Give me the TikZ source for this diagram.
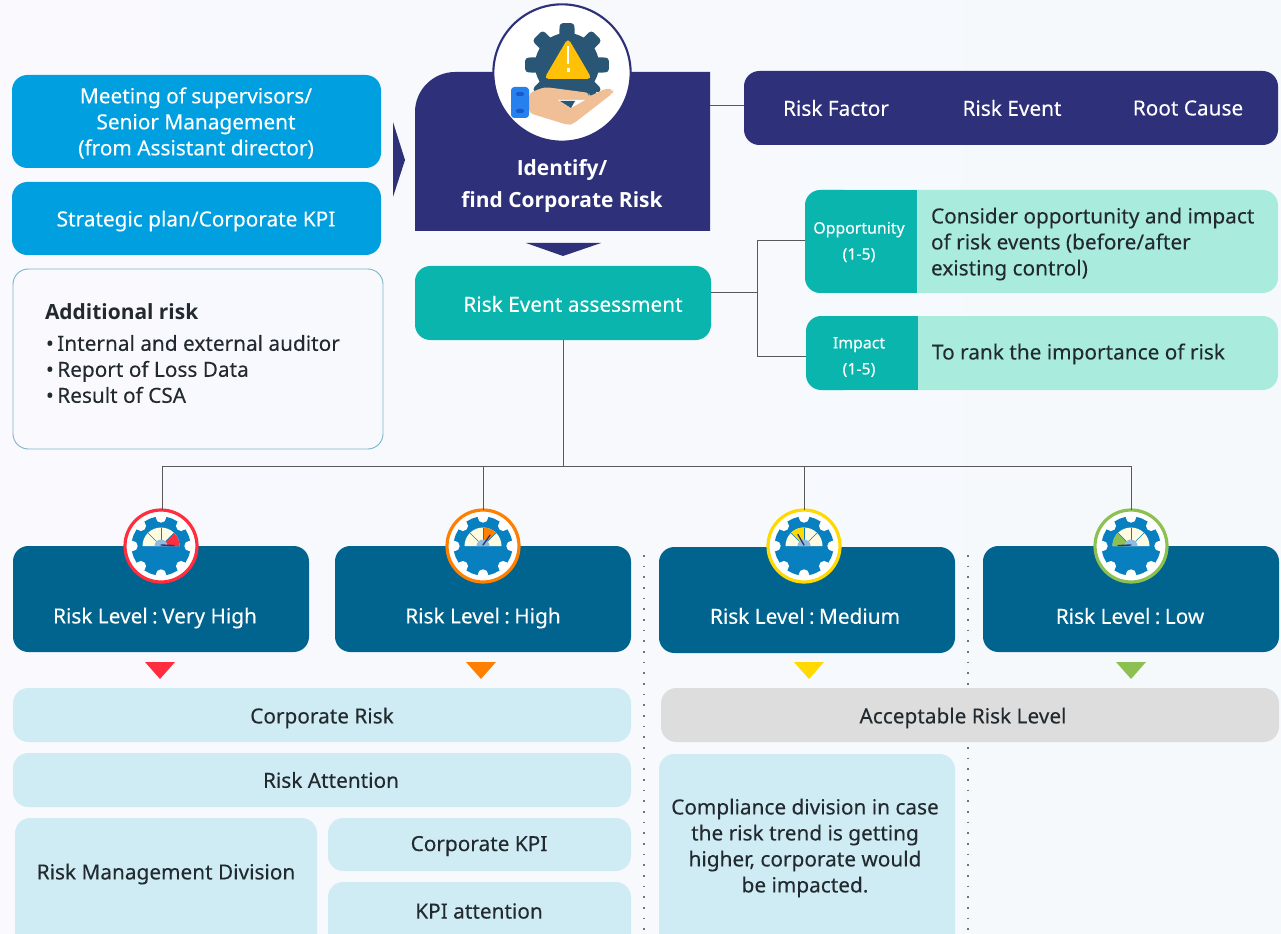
\documentclass[tikz,border=0pt]{standalone}
\usepackage{fontspec}
\setmainfont{Noto Sans}[FakeBold=0.12]
\newfontfamily\strongfont{Open Sans}
\usetikzlibrary{calc,shapes.misc}
\definecolor{navy}{HTML}{2E3179}
\definecolor{skyb}{HTML}{009FDF}
\definecolor{teal1}{HTML}{0AB5AE}
\definecolor{mint}{HTML}{A9EBDD}
\definecolor{deep}{HTML}{00648F}
\definecolor{pale}{HTML}{CFEBF3}
\definecolor{greyb}{HTML}{DDDDDD}
\definecolor{ink}{HTML}{222A30}
\definecolor{cred}{HTML}{FF2D3D}
\definecolor{corange}{HTML}{FF7F00}
\definecolor{cyellow}{HTML}{FFD900}
\definecolor{cgreen}{HTML}{8CC152}
\definecolor{gearblue}{HTML}{0880C0}
\definecolor{steel}{HTML}{2A5675}
\definecolor{peach}{HTML}{F0BF96}
\definecolor{cuff}{HTML}{2680EE}
\definecolor{cuffd}{HTML}{145AC8}
\definecolor{warn}{HTML}{FFC107}
\definecolor{dialc}{HTML}{FFFBE0}
\definecolor{hub}{HTML}{8FBBDD}
\definecolor{bgl}{HTML}{F9F9FE}
\definecolor{bgr}{HTML}{F5F9FC}
\definecolor{addb}{HTML}{7FB5CC}
\tikzset{
  rbox/.style={inner sep=0pt,outer sep=0pt,rounded corners=11.5pt},
  tx/.style={inner sep=0pt,outer sep=0pt,align=center,text=ink,font=\fontsize{15.6}{19.5}\selectfont},
  wtx/.style={tx,text=white},
  smtx/.style={wtx,font=\fontsize{11.9}{19.5}\selectfont},
  conn/.style={draw=black!65,line width=0.75pt},
  dots/.style={draw=black!55,line width=0.9pt,dash pattern=on 1.2pt off 6.8pt},
  ring/.style={circle,fill=white,line width=2.4pt,inner sep=0pt,outer sep=0pt,minimum size=54pt},
}
\newcommand{\cln}{\kern3.3pt:\kern3.3pt}
% name x1 y1 x2 y2 style
\newcommand{\bx}[6]{\node[rbox,#6,minimum width={(#4-#2)*0.75pt},minimum height={(#5-#3)*0.75pt}] (#1) at ({(#2+#4)/2},{(#3+#5)/2}) {};}
% gear with dial
\newcommand{\geardial}[7]{% name x y colour a1 a2 needle
  \node[ring,draw=#4] (#1) at (#2,#3) {};
  \begin{scope}[shift={(#2,#3)},yscale=-1]
    \fill[gearblue] (0,0) circle (29.5);
    \foreach \a in {0,45,...,315}{
      \fill[white] (\a:28.5) circle (5.2);
    }
    \fill[dialc] (-18.5,0) arc (180:0:18.5) -- cycle;
    \fill[#4] (0,0) -- (#5:18.5) arc (#5:#6:18.5) -- cycle;
    \foreach \a in {45,90,135}{\draw[gearblue,line width=0.5pt] (0,0) -- (\a:18.5);}
    \fill[hub] (-6.5,0) arc (180:0:6.5) -- cycle;
    \draw[navy,line width=1pt,line cap=round] (0,1) -- (#7:13);
  \end{scope}
}
\begin{document}
\begin{tikzpicture}[x=0.75pt,y=-0.75pt]
\useasboundingbox (0,0) rectangle (1281,934);
\clip (0,0) rectangle (1281,934);
\shade[left color=bgl,right color=bgr] (0,0) rectangle (1281,934);

% dotted separators
\coordinate (dotAtop) at (644,555);\coordinate (dotAbot) at (644,934);
\coordinate (dotBtop) at (968,555);\coordinate (dotBbot) at (968,934);
\draw[dots] (dotAtop) -- (dotAbot);
\draw[dots] (dotBtop) -- (dotBbot);

% left inputs
\bx{meeting}{12}{75}{381}{168}{fill=skyb}
\node[wtx] (meetingT) at (196,123) {Meeting of supervisors/\\Senior Management\\(from Assistant director)};
\bx{strategic}{12}{182}{381}{255}{fill=skyb}
\node[wtx] (strategicT) at (196,221) {Strategic plan/Corporate KPI};
\bx{additional}{13}{269}{383}{449}{draw=addb,line width=0.7pt}
\node[tx,font=\fontsize{15.7}{19.5}\strongfont\bfseries,anchor=west] (addT) at (45,312) {Additional risk};
\node[tx,align=left,anchor=north west] (addL) at (46,335) {•\,Internal and external auditor\\•\,Report of Loss Data\\•\,Result of CSA};

% identify block
\fill[navy] (415,231) -- (415,112) .. controls (415,90) and (433,72) .. (455,72) -- (710,72) -- (710,231) -- cycle;
\coordinate (idE) at (710,106);
\fill[navy] (393,122) -- (405,160) -- (393,197) -- cycle;
\fill[navy] (526,243) -- (601,243) -- (563,256) -- cycle;
\node[ring,draw=navy,minimum size=103pt,line width=1.6pt] (idring) at (562,73) {};
% icon
\begin{scope}[shift={(567,65)},yscale=-1]
  \fill[steel] (0,0) circle (32);
  \foreach \a in {0,45,...,315}{
    \fill[steel,rounded corners=2.5pt] (\a-16:28) -- (\a-10:42.5) -- (\a+10:42.5) -- (\a+16:28) -- cycle;
  }
\end{scope}
\fill[white] (520,92) -- (612,92) -- (612,112) -- (520,112) -- cycle;
\fill[steel] (538,84) -- (595,84) -- (597,100) -- (538,100) -- cycle;
\fill[peach,rounded corners=3pt] (529,93) -- (545,87) -- (590,93) -- (588,97) -- (607,88) -- (613,90) -- (613,93) -- (573,124) -- (568,125) -- (529,113) -- cycle;
\fill[white] (558,100) -- (585,100) -- (571,108) -- cycle;
\fill[steel] (560,101) -- (575,101) -- (571,108) -- cycle;
\fill[cuff,rounded corners=2.5pt] (511,87) rectangle (529,118);
\fill[cuffd,rounded corners=1.5pt] (516,92) rectangle (524,96);
\fill[cuffd,rounded corners=1.5pt] (516,109) rectangle (524,113);
\fill[warn,rounded corners=3.5pt] (568,38) -- (592,79) -- (544,79) -- cycle;
\draw[white,line width=1.8pt] (568,46) -- (568,64);
\fill[white] (566.5,68) rectangle (569.5,72);
\node[wtx,font=\fontsize{15.7}{24}\strongfont\bfseries] (idT) at (562,186) {Identify/\\find Corporate Risk};

% risk bar
\bx{riskbar}{744}{71}{1278}{145}{fill=navy}
\node[wtx] (rf) at (836,108) {Risk Factor};
\node[wtx] (re) at (1012,108) {Risk Event};
\node[wtx] (rc) at (1188,108) {Root Cause};
\coordinate (barW) at (744,106);

% risk event assessment
\bx{assess}{415}{266}{711}{340}{fill=teal1}
\node[wtx] (assessT) at (573,304) {Risk Event assessment};

% opportunity / impact
\bx{oppL}{805}{190}{1278}{293}{fill=mint}
\fill[teal1,rounded corners=11.5pt] (860,190) -- (805,190) -- (805,293) -- (860,293) -- cycle;
\fill[teal1] (840,190) rectangle (917,293);
\node[smtx] (oppT) at (859,242) {Opportunity\\(1-5)};
\node[tx,align=left,anchor=west] (oppD) at (931,244) {Consider opportunity and impact\\of risk events (before/after\\existing control)};
\bx{impL}{806}{316}{1278}{390}{fill=mint}
\fill[teal1,rounded corners=11.5pt] (860,316) -- (806,316) -- (806,390) -- (860,390) -- cycle;
\fill[teal1] (840,316) rectangle (918,390);
\node[smtx] (impT) at (859,357) {Impact\\(1-5)};
\node[tx,anchor=west] (impD) at (932,354) {To rank the importance of risk};

% connectors upper
\draw[conn] (idE) -- (barW);
\coordinate (asE) at (711,293);
\coordinate (fork) at (757,293);
\coordinate (oppW) at (805,241);
\coordinate (impW) at (806,356);
\draw[conn] (asE) -- (fork);
\draw[conn] (oppW) -| (fork) |- (impW);

% level boxes
\bx{lvA}{13}{546}{309}{652}{fill=deep}
\bx{lvB}{335}{546}{631}{652}{fill=deep}
\bx{lvC}{659}{547}{955}{653}{fill=deep}
\bx{lvD}{983}{546}{1279}{652}{fill=deep}
\node[wtx] at (155,618) (lvAT) {Risk Level\cln Very High};
\node[wtx] at (483,618) (lvBT) {Risk Level\cln High};
\node[wtx] at (805,616) (lvCT) {Risk Level\cln Medium};
\node[wtx] at (1130,616) (lvDT) {Risk Level\cln Low};

% bus
\coordinate (bus) at (563,466);
\coordinate (busA) at (162,466);
\coordinate (busB) at (483,466);
\coordinate (busC) at (804,466);
\coordinate (busD) at (1131,466);
\draw[conn] (assess.south) -- (bus);
\draw[conn] (busA) -- (busD);
\geardial{gA}{161}{546}{cred}{0}{45}{2}
\geardial{gB}{483}{546}{corange}{45}{90}{57}
\geardial{gC}{804}{546}{cyellow}{90}{135}{118}
\geardial{gD}{1131}{546}{cgreen}{135}{180}{178}
\draw[conn] (busA) -- (gA.north-|busA);
\draw[conn] (busB) -- (gB.north);
\draw[conn] (busC) -- (gC.north);
\draw[conn] (busD) -- (gD.north);

% small triangles
\fill[cred] (145,662) -- (175,662) -- (160,679) -- cycle;
\fill[corange] (466,662) -- (496,662) -- (481,679) -- cycle;
\fill[cyellow] (794,662) -- (824,662) -- (809,679) -- cycle;
\fill[cgreen] (1116,662) -- (1146,662) -- (1131,679) -- cycle;

% bottom panels
\bx{corp}{13}{688}{631}{742}{fill=pale}
\node[tx] (corpT) at (322,718) {Corporate Risk};
\bx{attn}{13}{753}{631}{807}{fill=pale}
\node[tx] (attnT) at (331,780) {Risk Attention};
\bx{rmd}{15}{818}{317}{950}{fill=pale}
\node[tx] (rmdT) at (166,874) {Risk Management Division};
\bx{ckpi}{328}{818}{631}{871}{fill=pale}
\node[tx] (ckpiT) at (479,846) {Corporate KPI};
\bx{kpia}{328}{882}{631}{950}{fill=pale}
\node[tx] (kpiaT) at (479,911) {KPI attention};
\bx{accept}{661}{688}{1279}{742}{fill=greyb}
\node[tx] (acceptT) at (963,718) {Acceptable Risk Level};
\bx{comp}{659}{754}{955}{950}{fill=pale}
\node[tx] (compT) at (805,848) {Compliance division in case\\the risk trend is getting\\higher, corporate would\\be impacted.};
\end{tikzpicture}
\end{document}
